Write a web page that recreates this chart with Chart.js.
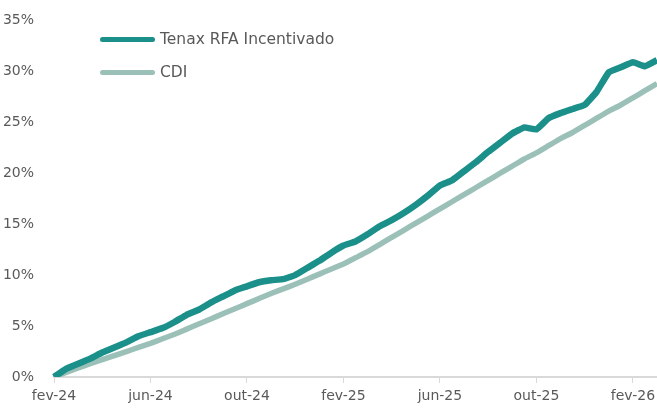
<!DOCTYPE html>
<html>
<head>
<meta charset="utf-8">
<script src="https://cdn.jsdelivr.net/npm/chart.js@4"></script>
<style>
  html, body { margin: 0; padding: 0; background: #fff; }
  #wrap { position: relative; width: 657px; height: 411px; }
  .legend { position: absolute; left: 100px; font: 15.5px "DejaVu Sans", sans-serif; color: #595959; display: flex; align-items: center; }
  .legend i { display: inline-block; width: 55px; height: 5px; border-radius: 3px; margin-right: 5px; }
</style>
</head>
<body>
<div id="wrap">
  <canvas id="chart" width="657" height="411"></canvas>
  <div class="legend" style="top: 30px;"><i style="background:#1b8f8a"></i>Tenax RFA Incentivado</div>
  <div class="legend" style="top: 63px;"><i style="background:#9bc0b8"></i>CDI</div>
</div>
<script>
// half-month points, fev-24 .. mar-26
const labels = [
  "fev-24", "", "mar-24", "", "abr-24", "", "mai-24", "", "jun-24", "", "jul-24", "", "ago-24", "",
  "set-24", "", "out-24", "", "nov-24", "", "dez-24", "", "jan-25", "", "fev-25", "", "mar-25", "",
  "abr-25", "", "mai-25", "", "jun-25", "", "jul-25", "", "ago-25", "", "set-25", "", "out-25", "",
  "nov-25", "", "dez-25", "", "jan-26", "", "fev-26", "", "mar-26"
];
const tenax = [
  0.0, 0.8, 1.3, 1.8, 2.4, 2.9, 3.4, 4.0, 4.4, 4.8, 5.4, 6.1, 6.6, 7.3, 7.9, 8.5, 8.9,
  9.3, 9.5, 9.6, 10.0, 10.7, 11.4, 12.2, 12.9, 13.3, 14.0, 14.8, 15.4, 16.1, 16.9, 17.8,
  18.8, 19.3, 20.2, 21.1, 22.1, 23.0, 23.9, 24.5, 24.3, 25.4, 25.9, 26.3, 26.7, 28.0,
  29.9, 30.4, 30.9, 30.5, 31.1
];
const cdi = [
  0.0, 0.45, 0.9, 1.3, 1.7, 2.1, 2.5, 2.9, 3.3, 3.75, 4.2, 4.7, 5.2, 5.7, 6.2, 6.7, 7.2,
  7.7, 8.2, 8.65, 9.1, 9.6, 10.1, 10.6, 11.1, 11.7, 12.3, 13.0, 13.7, 14.4, 15.1, 15.8,
  16.5, 17.2, 17.9, 18.6, 19.3, 20.0, 20.7, 21.4, 22.0, 22.7, 23.4, 24.0, 24.7, 25.4,
  26.1, 26.7, 27.4, 28.1, 28.8
];
const yTicks = [0, 5, 10, 15, 20, 25, 30, 35];
const TEXT = "#595959";
const FONT = "'DejaVu Sans', sans-serif";

new Chart(document.querySelector("#chart"), {
  type: "line",
  data: {
    labels,
    datasets: [
      { label: "CDI", data: cdi, borderColor: "#9bc0b8", borderWidth: 5.5, pointRadius: 0, tension: 0.1, order: 2 },
      { label: "Tenax RFA Incentivado", data: tenax, borderColor: "#1b8f8a", borderWidth: 6.5, pointRadius: 0, tension: 0.1, order: 1 }
    ]
  },
  options: {
    responsive: false,
    animation: false,
    layout: { autoPadding: false, padding: { top: 12, right: 0, left: 0, bottom: 0 } },
    plugins: { legend: { display: false }, tooltip: { enabled: false } },
    scales: {
      x: {
        offset: false,
        afterFit: (scale) => { scale.height = 34; scale.paddingRight = 0; },
        grid: {
          drawOnChartArea: false,
          tickLength: 6,
          color: (ctx) => (ctx.index % 8 === 0 ? "#d9d9d9" : "rgba(0,0,0,0)")
        },
        border: { display: true, color: "#d9d9d9", width: 2 },
        ticks: {
          autoSkip: false,
          maxRotation: 0,
          padding: 5,
          color: TEXT,
          font: { family: FONT, size: 14 },
          callback: (value, index) => (index % 8 === 0 ? labels[index] : "")
        }
      },
      y: {
        min: 0,
        max: 35,
        afterFit: (scale) => { scale.width = 54; },
        afterBuildTicks: (scale) => { scale.ticks = yTicks.map((v) => ({ value: v })); },
        grid: { display: false },
        border: { display: false },
        ticks: { color: TEXT, padding: 12, font: { family: FONT, size: 14 }, callback: (v) => `${v}%` }
      }
    }
  }
});
</script>
</body>
</html>
